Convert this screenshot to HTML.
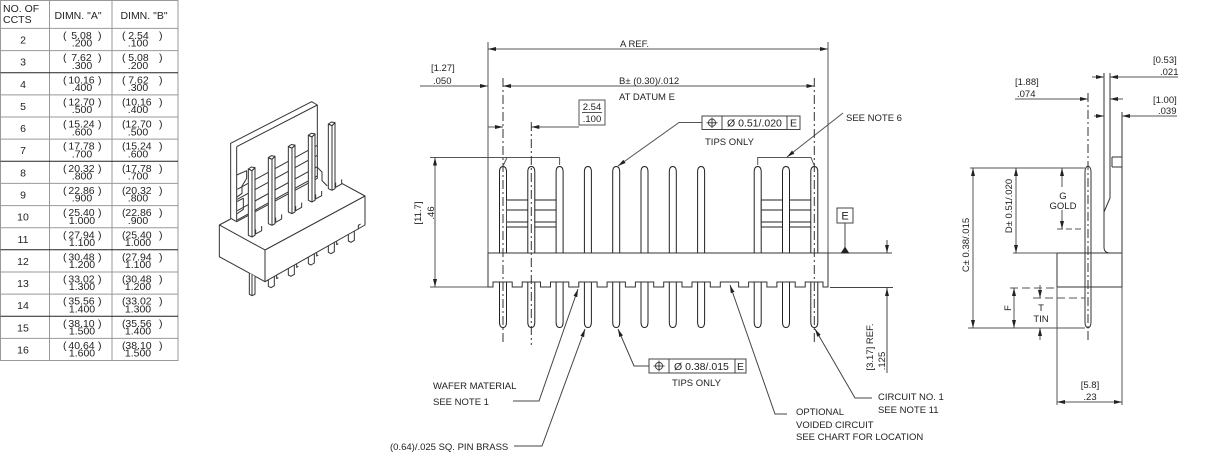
<!DOCTYPE html>
<html><head><meta charset="utf-8"><style>
html,body{margin:0;padding:0;background:#fff;}
svg{display:block;}
text{font-family:"Liberation Sans",Arial,sans-serif;fill:#222;}
.t{font-size:10.5px;}
.l{font-size:9.5px;}
</style></head><body>
<svg width="1217" height="456" viewBox="0 0 1217 456">
<defs>
<marker id="ar" viewBox="0 0 8 4" markerWidth="8" markerHeight="4" refX="8" refY="2" orient="auto-start-reverse" markerUnits="userSpaceOnUse"><path d="M0,0 L8,2 L0,4 z" fill="#222"/></marker>
</defs>
<rect width="1217" height="456" fill="#fff"/>

<!-- TABLE -->
<g stroke="#999" stroke-width="1" fill="none">
<rect x="0.5" y="0.5" width="177.5" height="360"/>
<line x1="49.5" y1="0.5" x2="49.5" y2="360.5"/>
<line x1="112" y1="0.5" x2="112" y2="360.5"/>
<line x1="0.5" y1="28.4" x2="178" y2="28.4"/>
<line x1="0.5" y1="50.6" x2="178" y2="50.6"/>
<line x1="0.5" y1="94.9" x2="178" y2="94.9"/>
<line x1="0.5" y1="117" x2="178" y2="117"/>
<line x1="0.5" y1="139.1" x2="178" y2="139.1"/>
<line x1="0.5" y1="183.4" x2="178" y2="183.4"/>
<line x1="0.5" y1="205.6" x2="178" y2="205.6"/>
<line x1="0.5" y1="227.7" x2="178" y2="227.7"/>
<line x1="0.5" y1="272" x2="178" y2="272"/>
<line x1="0.5" y1="294.1" x2="178" y2="294.1"/>
<line x1="0.5" y1="338.4" x2="178" y2="338.4"/>
</g>
<g stroke="#222" stroke-width="1">
<line x1="0.5" y1="72.7" x2="178" y2="72.7"/>
<line x1="0.5" y1="161.3" x2="178" y2="161.3"/>
<line x1="0.5" y1="249.8" x2="178" y2="249.8"/>
<line x1="0.5" y1="316.3" x2="178" y2="316.3"/>
</g>
<g class="t">
<text x="3" y="12">NO. OF</text><text x="3" y="23">CCTS</text>
<text x="78" y="19" text-anchor="middle">DIMN. "A"</text>
<text x="144" y="19" text-anchor="middle">DIMN. "B"</text>
</g>
<g class="t" text-anchor="middle">
<text x="23" y="43.5">2</text><text x="23" y="65.6">3</text><text x="23" y="87.8">4</text><text x="23" y="109.9">5</text><text x="23" y="132.1">6</text><text x="23" y="154.2">7</text><text x="23" y="176.3">8</text><text x="23" y="198.5">9</text><text x="23" y="220.6">10</text><text x="23" y="242.8">11</text><text x="23" y="264.9">12</text><text x="23" y="287">13</text><text x="23" y="309.2">14</text><text x="23" y="331.3">15</text><text x="23" y="353.5">16</text>
<text x="81.5" y="39">5.08</text><text x="81.5" y="61.1">7.62</text><text x="81.5" y="83.3">10.16</text><text x="81.5" y="105.4">12.70</text><text x="81.5" y="127.6">15.24</text><text x="81.5" y="149.7">17.78</text><text x="81.5" y="171.8">20.32</text><text x="81.5" y="194">22.86</text><text x="81.5" y="216.1">25.40</text><text x="81.5" y="238.3">27.94</text><text x="81.5" y="260.4">30.48</text><text x="81.5" y="282.5">33.02</text><text x="81.5" y="304.7">35.56</text><text x="81.5" y="326.8">38.10</text><text x="81.5" y="349">40.64</text>
<text x="82" y="46.7">.200</text><text x="82" y="68.8">.300</text><text x="82" y="91">.400</text><text x="82" y="113.1">.500</text><text x="82" y="135.3">.600</text><text x="82" y="157.4">.700</text><text x="82" y="179.5">.800</text><text x="82" y="201.7">.900</text><text x="82" y="223.8">1.000</text><text x="82" y="246">1.100</text><text x="82" y="268.1">1.200</text><text x="82" y="290.2">1.300</text><text x="82" y="312.4">1.400</text><text x="82" y="334.5">1.500</text><text x="82" y="356.7">1.600</text>
<text x="138.5" y="39">2.54</text><text x="138.5" y="61.1">5.08</text><text x="138.5" y="83.3">7.62</text><text x="138.5" y="105.4">10.16</text><text x="138.5" y="127.6">12.70</text><text x="138.5" y="149.7">15.24</text><text x="138.5" y="171.8">17.78</text><text x="138.5" y="194">20.32</text><text x="138.5" y="216.1">22.86</text><text x="138.5" y="238.3">25.40</text><text x="138.5" y="260.4">27.94</text><text x="138.5" y="282.5">30.48</text><text x="138.5" y="304.7">33.02</text><text x="138.5" y="326.8">35.56</text><text x="138.5" y="349">38.10</text>
<text x="138" y="46.7">.100</text><text x="138" y="68.8">.200</text><text x="138" y="91">.300</text><text x="138" y="113.1">.400</text><text x="138" y="135.3">.500</text><text x="138" y="157.4">.600</text><text x="138" y="179.5">.700</text><text x="138" y="201.7">.800</text><text x="138" y="223.8">.900</text><text x="138" y="246">1.000</text><text x="138" y="268.1">1.100</text><text x="138" y="290.2">1.200</text><text x="138" y="312.4">1.300</text><text x="138" y="334.5">1.400</text><text x="138" y="356.7">1.500</text>
</g>
<g class="t">
<text x="63" y="39">(</text><text x="63" y="61.1">(</text><text x="63" y="83.3">(</text><text x="63" y="105.4">(</text><text x="63" y="127.6">(</text><text x="63" y="149.7">(</text><text x="63" y="171.8">(</text><text x="63" y="194">(</text><text x="63" y="216.1">(</text><text x="63" y="238.3">(</text><text x="63" y="260.4">(</text><text x="63" y="282.5">(</text><text x="63" y="304.7">(</text><text x="63" y="326.8">(</text><text x="63" y="349">(</text>
<text x="98" y="39">)</text><text x="98" y="61.1">)</text><text x="98" y="83.3">)</text><text x="98" y="105.4">)</text><text x="98" y="127.6">)</text><text x="98" y="149.7">)</text><text x="98" y="171.8">)</text><text x="98" y="194">)</text><text x="98" y="216.1">)</text><text x="98" y="238.3">)</text><text x="98" y="260.4">)</text><text x="98" y="282.5">)</text><text x="98" y="304.7">)</text><text x="98" y="326.8">)</text><text x="98" y="349">)</text>
<text x="122" y="39">(</text><text x="122" y="61.1">(</text><text x="122" y="83.3">(</text><text x="122" y="105.4">(</text><text x="122" y="127.6">(</text><text x="122" y="149.7">(</text><text x="122" y="171.8">(</text><text x="122" y="194">(</text><text x="122" y="216.1">(</text><text x="122" y="238.3">(</text><text x="122" y="260.4">(</text><text x="122" y="282.5">(</text><text x="122" y="304.7">(</text><text x="122" y="326.8">(</text><text x="122" y="349">(</text>
<text x="159" y="39">)</text><text x="159" y="61.1">)</text><text x="159" y="83.3">)</text><text x="159" y="105.4">)</text><text x="159" y="127.6">)</text><text x="159" y="149.7">)</text><text x="159" y="171.8">)</text><text x="159" y="194">)</text><text x="159" y="216.1">)</text><text x="159" y="238.3">)</text><text x="159" y="260.4">)</text><text x="159" y="282.5">)</text><text x="159" y="304.7">)</text><text x="159" y="326.8">)</text><text x="159" y="349">)</text>
</g>

<!-- ISOMETRIC VIEW -->
<g transform="translate(210 110) scale(0.33333)" stroke="#333" stroke-width="3" fill="none" stroke-linejoin="round">
<path d="M62,100 L305,-25 L322,-15 L322,205 L80,335 L62,325 Z" fill="#fff"/>
<path d="M80,110 L322,-15"/>
<path d="M80,110 L80,335"/>
<path d="M82,238 L322,106 M82,268 L322,136 M82,302 L322,170 M82,330 L322,198"/>
<path d="M80,195 L110,182 L110,205 L96,228 L96,250 L80,262"/>
<path d="M80,275 L100,265 L100,298 L80,312"/>
<path d="M322,172 L336,186 L336,212 L352,228"/>
<path d="M28,345 L165,420 L165,515 L28,440 Z" fill="#fff"/>
<path d="M165,420 L465,258 L465,345 L165,515 Z" fill="#fff"/>
<path d="M465,258 L395,220 M28,345 L62,327"/>
<path d="M137,358 L137,372 L155,362 L155,348"/>
<path d="M197,323 L197,337 L215,327 L215,313"/>
<path d="M257,288 L257,302 L275,292 L275,278"/>
<path d="M317,253 L317,267 L335,257 L335,243"/>
<path d="M377,218 L377,232 L395,222 L395,208"/>
<path d="M115,177 L126,182 L135,173 L135,376 L126,381 L115,376 Z" fill="#fff"/><path d="M115,177 L124,171 L135,173 L126,182 Z M126,182 V381"/>
<path d="M175,143 L186,148 L195,139 L195,341 L186,346 L175,341 Z" fill="#fff"/><path d="M175,143 L184,137 L195,139 L186,148 Z M186,148 V346"/>
<path d="M235,109.5 L246,114.5 L255,105.5 L255,306 L246,311 L235,306 Z" fill="#fff"/><path d="M235,109.5 L244,103.5 L255,105.5 L246,114.5 Z M246,114.5 V311"/>
<path d="M295,75.75 L306,80.75 L315,71.75 L315,271 L306,276 L295,271 Z" fill="#fff"/><path d="M295,75.75 L304,69.75 L315,71.75 L306,80.75 Z M306,80.75 V276"/>
<path d="M355,42 L366,47 L375,38 L375,236 L366,241 L355,236 Z" fill="#fff"/><path d="M355,42 L364,36 L375,38 L366,47 Z M366,47 V241"/>
<path d="M175,509 L175,529 L183,533 L193,527 L193,499"/>
<path d="M235,475 L235,495 L243,499 L253,493 L253,465"/>
<path d="M295,441 L295,461 L303,465 L313,459 L313,431"/>
<path d="M355,407 L355,427 L363,431 L373,425 L373,397"/>
<path d="M415,373 L415,393 L423,397 L433,391 L433,363"/>
<path d="M200,496 V506 L205,503 M260,462 V472 L265,469 M320,428 V438 L325,435 M380,394 V404 L385,401 M445,358 V346 L452,342"/>
<path d="M118,489 V553 L126,557 L135,553 V499 M126,494 V557" fill="#fff"/>
</g>

<!-- FRONT VIEW -->
<g stroke="#555" stroke-width="1" fill="none">
<line x1="488" y1="42" x2="488" y2="253"/>
<line x1="828" y1="42" x2="828" y2="253"/>
<line x1="488" y1="49" x2="828" y2="49" marker-start="url(#ar)" marker-end="url(#ar)"/>
<line x1="420" y1="86" x2="488" y2="86" marker-end="url(#ar)"/>
<line x1="503" y1="86" x2="814.3" y2="86" marker-start="url(#ar)" marker-end="url(#ar)"/>
<line x1="488" y1="127" x2="503" y2="127" marker-end="url(#ar)"/>
<line x1="579" y1="127" x2="531.3" y2="127" marker-end="url(#ar)"/>
<rect x="579" y="100" width="26" height="25"/>
<line x1="582" y1="112.5" x2="602" y2="112.5"/>
<line x1="430" y1="157.5" x2="559.6" y2="157.5"/>
<line x1="559.6" y1="157.5" x2="559.6" y2="165"/>
<line x1="507" y1="157.5" x2="503.5" y2="165"/>
<line x1="430" y1="287" x2="488" y2="287"/>
<line x1="435" y1="157.5" x2="435" y2="287" marker-start="url(#ar)" marker-end="url(#ar)"/>
<path d="M757.7,165 V157.5 H811 L814,165"/>
<line x1="843" y1="113" x2="787" y2="157" marker-end="url(#ar)"/>
<path d="M702,122.5 H679 L618,166" marker-end="url(#ar)"/>
</g>
<g stroke="#222" stroke-width="1" fill="#fff">
<path d="M499.5,322V172Q499.5,166.5 503,166.5Q506.5,166.5 506.5,172V322Q506.5,327.5 503,327.5Q499.5,327.5 499.5,322Z"/>
<path d="M527.8,322V172Q527.8,166.5 531.3,166.5Q534.8,166.5 534.8,172V322Q534.8,327.5 531.3,327.5Q527.8,327.5 527.8,322Z"/>
<path d="M556.1,322V172Q556.1,166.5 559.6,166.5Q563.1,166.5 563.1,172V322Q563.1,327.5 559.6,327.5Q556.1,327.5 556.1,322Z"/>
<path d="M584.4,322V172Q584.4,166.5 587.9,166.5Q591.4,166.5 591.4,172V322Q591.4,327.5 587.9,327.5Q584.4,327.5 584.4,322Z"/>
<path d="M612.7,322V172Q612.7,166.5 616.2,166.5Q619.7,166.5 619.7,172V322Q619.7,327.5 616.2,327.5Q612.7,327.5 612.7,322Z"/>
<path d="M641,322V172Q641,166.5 644.5,166.5Q648,166.5 648,172V322Q648,327.5 644.5,327.5Q641,327.5 641,322Z"/>
<path d="M669.3,322V172Q669.3,166.5 672.8,166.5Q676.3,166.5 676.3,172V322Q676.3,327.5 672.8,327.5Q669.3,327.5 669.3,322Z"/>
<path d="M697.6,322V172Q697.6,166.5 701.1,166.5Q704.6,166.5 704.6,172V322Q704.6,327.5 701.1,327.5Q697.6,327.5 697.6,322Z"/>
<path d="M754.2,322V172Q754.2,166.5 757.7,166.5Q761.2,166.5 761.2,172V322Q761.2,327.5 757.7,327.5Q754.2,327.5 754.2,322Z"/>
<path d="M782.5,322V172Q782.5,166.5 786,166.5Q789.5,166.5 789.5,172V322Q789.5,327.5 786,327.5Q782.5,327.5 782.5,322Z"/>
<path d="M810.8,322V172Q810.8,166.5 814.3,166.5Q817.8,166.5 817.8,172V322Q817.8,327.5 814.3,327.5Q810.8,327.5 810.8,322Z"/>
</g>
<g stroke="#222" stroke-width="1">
<path d="M506.5,200H527.8M534.8,200H556.1M506.5,210H527.8M534.8,210H556.1M506.5,222H527.8M534.8,222H556.1M506.5,227H527.8M534.8,227H556.1"/>
<path d="M761.2,200H782.5M789.5,200H810.8M761.2,210H782.5M789.5,210H810.8M761.2,222H782.5M789.5,222H810.8M761.2,227H782.5M789.5,227H810.8"/>
<path d="M506.5,200V227M761.2,200V227" stroke="#444"/>
</g>
<path d="M488,253 H828 V287 H823 V282 H805.2 V287 H795.2 V282 H776.9 V287 H766.9 V282 H748.6 V287 H738.6 V282 H720.3 V287 H710.3 V282 H692 V287 H682 V282 H663.7 V287 H653.7 V282 H635.4 V287 H625.4 V282 H607.1 V287 H597.1 V282 H578.8 V287 H568.8 V282 H550.5 V287 H540.5 V282 H522.2 V287 H512.2 V282 H493 V287 H488 Z" fill="#fff" stroke="#333" stroke-width="1"/>
<g stroke="#333" stroke-width="1" stroke-dasharray="9 3 2 3">
<line x1="503" y1="78" x2="503" y2="345"/>
<line x1="531.3" y1="122" x2="531.3" y2="345"/>
<line x1="814.3" y1="78" x2="814.3" y2="345"/>
</g>
<g stroke="#444" stroke-width="1" fill="none">
<rect x="837" y="208" width="16" height="15"/>
<line x1="845" y1="223" x2="845" y2="248"/>
<line x1="828" y1="253" x2="892" y2="253"/>
<line x1="830" y1="287.5" x2="893" y2="287.5"/>
<line x1="887" y1="240" x2="887" y2="253" marker-end="url(#ar)"/>
<line x1="887" y1="373" x2="887" y2="288" marker-end="url(#ar)"/>
<path d="M513,401 H539 L578,289" marker-end="url(#ar)"/>
<path d="M514,446 H542 L585,329" marker-end="url(#ar)"/>
<path d="M649,366 H634 L618,329" marker-end="url(#ar)"/>
<path d="M787,414 H775 L730,285" marker-end="url(#ar)"/>
<path d="M872,398 H855 L815,329" marker-end="url(#ar)"/>
<rect x="702" y="116" width="98" height="13.5"/>
<line x1="722" y1="116" x2="722" y2="129.5"/><line x1="787" y1="116" x2="787" y2="129.5"/>
<circle cx="712" cy="122.75" r="3.6"/><line x1="706.5" y1="122.75" x2="717.5" y2="122.75"/><line x1="712" y1="117.5" x2="712" y2="128"/>
<rect x="649" y="359" width="97" height="14"/>
<line x1="669" y1="359" x2="669" y2="373"/><line x1="735" y1="359" x2="735" y2="373"/>
<circle cx="659" cy="366" r="3.6"/><line x1="653.5" y1="366" x2="664.5" y2="366"/><line x1="659" y1="360.5" x2="659" y2="371.5"/>
</g>
<path d="M840.5,253.5 L849.5,253.5 L845,246.5 Z" fill="#222"/>

<g class="l">
<text x="620" y="47">A  REF.</text>
<text x="431" y="71">[1.27]</text>
<text x="433" y="84">.050</text>
<text x="619" y="84">B± (0.30)/.012</text>
<text x="619" y="100">AT DATUM E</text>
<text x="592" y="110" text-anchor="middle">2.54</text>
<text x="592" y="122" text-anchor="middle">.100</text>
<text x="705" y="145">TIPS ONLY</text>
<text x="846" y="121">SEE NOTE 6</text>
<text transform="translate(421 213) rotate(-90)" text-anchor="middle">[11.7]</text>
<text transform="translate(434 213) rotate(-90)" text-anchor="middle">.46</text>
<text transform="translate(873 347) rotate(-90)" text-anchor="middle">[3.17] REF.</text>
<text transform="translate(885 361) rotate(-90)" text-anchor="middle">.125</text>
<text x="672" y="386">TIPS ONLY</text>
<text x="433" y="389">WAFER MATERIAL</text>
<text x="433" y="405">SEE NOTE 1</text>
<text x="390" y="450">(0.64)/.025 SQ. PIN BRASS</text>
<text x="796" y="415">OPTIONAL</text>
<text x="796" y="428">VOIDED CIRCUIT</text>
<text x="796" y="440">SEE CHART FOR LOCATION</text>
<text x="878" y="400">CIRCUIT NO. 1</text>
<text x="878" y="413">SEE NOTE 11</text>
</g>
<g class="t">
<text x="727" y="126.5">Ø 0.51/.020</text>
<text x="793.5" y="126.5" text-anchor="middle">E</text>
<text x="674" y="370">Ø 0.38/.015</text>
<text x="740.5" y="370" text-anchor="middle">E</text>
<text x="845" y="219.5" text-anchor="middle" style="font-size:11px">E</text>
</g>

<!-- SIDE VIEW -->
<g stroke="#333" stroke-width="1" fill="none">
<path d="M1104,73 V247 Q1104,253 1110,253"/>
<path d="M1110,73 V198 L1104,212"/>
<line x1="1122" y1="112" x2="1122" y2="253"/>
<path d="M1112,157 H1122 M1112,167 H1122 M1112,157 V167"/>
<rect x="1057" y="253" width="65" height="34"/>
<path d="M1085,322 V172 Q1085,167 1088,166 Q1091,167 1091,172 V322 Q1091,327 1088,328 Q1085,327 1085,322 Z"/>
</g>
<line x1="1088" y1="93" x2="1088" y2="340" stroke="#333" stroke-width="1" stroke-dasharray="9 3 2 3"/>
<g stroke="#555" stroke-width="1" fill="none">
<line x1="1092" y1="77" x2="1104" y2="77" marker-end="url(#ar)"/>
<line x1="1178" y1="77" x2="1110" y2="77" marker-end="url(#ar)"/>
<line x1="1015" y1="99" x2="1088" y2="99" marker-end="url(#ar)"/>
<line x1="1123" y1="99" x2="1110" y2="99" marker-end="url(#ar)"/>
<line x1="1094" y1="116" x2="1104" y2="116" marker-end="url(#ar)"/>
<line x1="1177" y1="116" x2="1122" y2="116" marker-end="url(#ar)"/>
<line x1="970" y1="168" x2="1085" y2="168"/>
<line x1="968" y1="328" x2="1085" y2="328"/>
<line x1="1013" y1="253" x2="1057" y2="253"/>
<line x1="1057" y1="229" x2="1083" y2="229" stroke-dasharray="6 3"/>
<line x1="1010" y1="288" x2="1057" y2="288" stroke-dasharray="8 4"/>
<line x1="1033" y1="298" x2="1085" y2="298" stroke-dasharray="8 4"/>
<line x1="1057" y1="287" x2="1057" y2="405"/>
<line x1="1122" y1="287" x2="1122" y2="405"/>
<line x1="973" y1="168" x2="973" y2="328" marker-start="url(#ar)" marker-end="url(#ar)"/>
<line x1="1016" y1="168" x2="1016" y2="253" marker-start="url(#ar)" marker-end="url(#ar)"/>
<line x1="1062" y1="187" x2="1062" y2="168" marker-end="url(#ar)"/>
<line x1="1062" y1="210" x2="1062" y2="229" marker-end="url(#ar)"/>
<line x1="1014" y1="288" x2="1014" y2="328" marker-start="url(#ar)" marker-end="url(#ar)"/>
<line x1="1040" y1="285" x2="1040" y2="298" marker-end="url(#ar)"/>
<line x1="1040" y1="340" x2="1040" y2="328" marker-end="url(#ar)"/>
<line x1="1057" y1="402" x2="1122" y2="402" marker-start="url(#ar)" marker-end="url(#ar)"/>
</g>
<g class="l">
<text x="1153" y="63">[0.53]</text>
<text x="1160" y="75">.021</text>
<text x="1015" y="85">[1.88]</text>
<text x="1017" y="97">.074</text>
<text x="1153" y="103">[1.00]</text>
<text x="1158" y="114">.039</text>
<text x="1063" y="199" text-anchor="middle">G</text>
<text x="1063" y="209" text-anchor="middle">GOLD</text>
<text transform="translate(1012 206) rotate(-90)" text-anchor="middle">D± 0.51/.020</text>
<text transform="translate(969 245) rotate(-90)" text-anchor="middle">C± 0.38/.015</text>
<text transform="translate(1011 308) rotate(-90)" text-anchor="middle">F</text>
<text x="1041" y="311" text-anchor="middle">T</text>
<text x="1041" y="322" text-anchor="middle">TIN</text>
<text x="1090" y="388" text-anchor="middle">[5.8]</text>
<text x="1090" y="400" text-anchor="middle">.23</text>
</g>
</svg>
</body></html>
